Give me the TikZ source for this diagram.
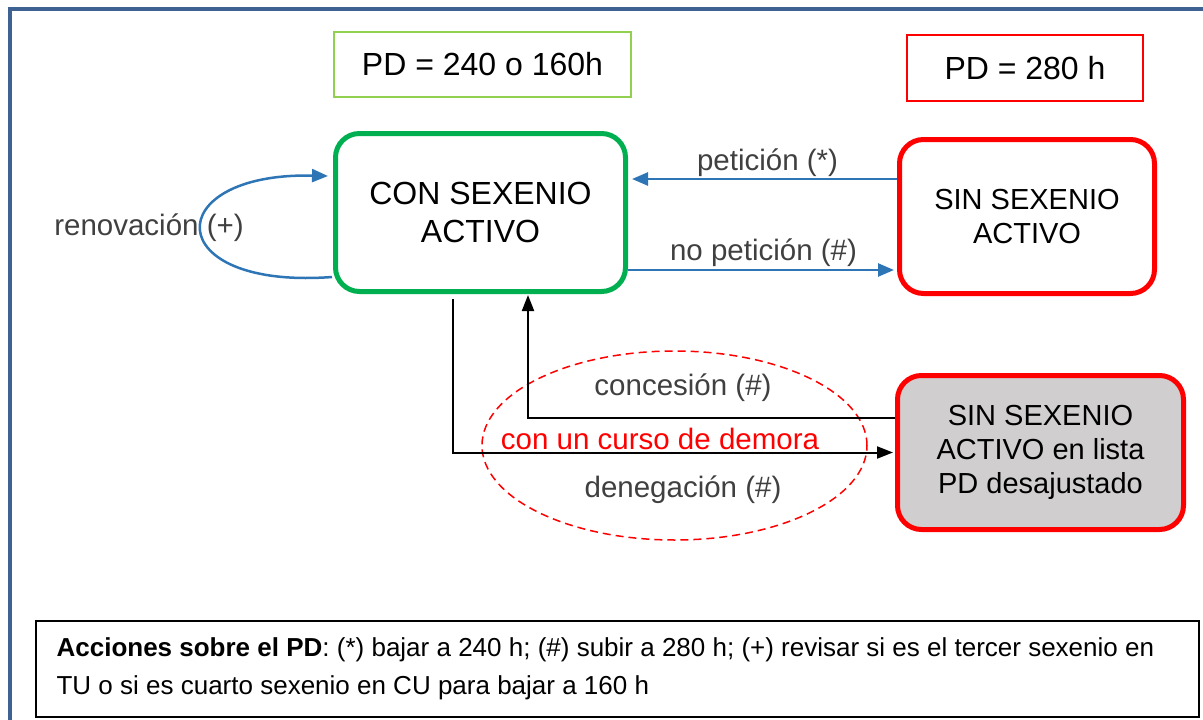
\documentclass[tikz,border=0pt]{standalone}
\usepackage{fontspec}
\setmainfont{Liberation Sans}
\usetikzlibrary{arrows.meta,shapes.geometric}

\definecolor{frameblue}{RGB}{62,98,146}
\definecolor{arrowblue}{RGB}{46,117,182}
\definecolor{stategreen}{RGB}{0,176,80}
\definecolor{lightgreen}{RGB}{146,208,80}
\definecolor{labelgray}{RGB}{64,64,64}
\definecolor{boxgray}{RGB}{208,206,206}

\tikzset{
  state/.style={rectangle, rounded corners=24pt, line width=5pt, align=center, inner sep=0pt, font=\fontsize{32}{38}\selectfont},
  pdbox/.style={rectangle, line width=1.8pt, inner sep=0pt, font=\fontsize{32}{38}\selectfont},
  lbl/.style={text=labelgray, inner sep=0pt, font=\fontsize{29.5}{34}\selectfont},
  bluearrow/.style={draw=arrowblue, line width=2.5pt, -{Triangle[length=16pt,width=13pt]}},
  blackarrow/.style={draw=black, line width=2pt, -{Triangle[length=16pt,width=12pt]}},
}

\begin{document}
\begin{tikzpicture}[x=1pt,y=-1pt]
        \useasboundingbox (0,0) rectangle (1203,720);

        % Outer frame
        \draw[frameblue, line width=4pt] (10,740) -- (10,9) -- (1220,9);

        % PD boxes on top
        \node at (482.5, 64.5) (PDlow) [pdbox, draw=lightgreen, minimum width=297.5, minimum height=65.5] {PD = 240 o 160h};
        \node at (1025, 68) (PDhigh) [pdbox, draw=red, minimum width=236.5, minimum height=66.5] {PD = 280 h};

        % States
        \node at (480.5, 212.5) (CON) [state, draw=stategreen, minimum width=290, minimum height=158] {CON SEXENIO\\ACTIVO};
        \node at (1027, 216.5) (SIN) [state, draw=red, minimum width=255, minimum height=154, font=\fontsize{29}{34}\selectfont] {SIN SEXENIO\\ACTIVO};
        \node at (1040.5, 452.5) (LISTA) [state, draw=red, fill=boxgray, minimum width=286, minimum height=154, font=\fontsize{29}{34}\selectfont] {SIN SEXENIO\\ACTIVO en lista\\PD desajustado};

        % Delay ellipse
        \node at (674.5, 445.5) (DELAY) [ellipse, draw=red, line width=1.5pt, dash pattern=on 8pt off 5pt, minimum width=385, minimum height=189, inner sep=0pt] {};

        % Blue edges
        \draw[bluearrow] ([yshift=37.5pt]SIN.west) -- ([xshift=4pt,yshift=33.5pt]CON.east);
        \draw[bluearrow] ([yshift=-57.5pt]CON.east) -- ([xshift=-3pt,yshift=-53.5pt]SIN.west);
        \draw[bluearrow] ([xshift=-1pt,yshift=-64.5pt]CON.west) .. controls +(-173,13) and +(-169,-4) .. ([xshift=-5pt,yshift=36.5pt]CON.west);

        % Black edges
        \draw[blackarrow] ([xshift=-27.5pt,yshift=-5pt]CON.south) |- ([xshift=-2pt]LISTA.west);
        \draw[blackarrow] ([yshift=34.5pt]LISTA.west) -| ([xshift=47.5pt,yshift=-1pt]CON.south);

        % Edge labels
        \node at (149, 227.5) (renov) [lbl] {renovación (+)};
        \node at (767.5, 162.5) (pet) [lbl] {petición (*)};
        \node at (763.5, 252.5) (nopet) [lbl] {no petición (\#)};
        \node at (683, 388) (conc) [lbl] {concesión (\#)};
        \node at (660, 439) (demora) [lbl, text=red] {con un curso de demora};
        \node at (683, 489.5) (deneg) [lbl] {denegación (\#)};

        % Legend
        \node at (617.5, 669) (legend) [rectangle, draw=black, line width=1.2pt, minimum width=1163, minimum height=96, inner sep=0pt] {};
        \node at ([xshift=21pt]legend.west) (legendtext) [anchor=west, align=left, inner sep=0pt, font=\fontsize{26}{38}\selectfont]
          {\textbf{Acciones sobre el PD}: (*) bajar a 240 h; (\#) subir a 280 h; (+) revisar si es el tercer sexenio en\\TU o si es cuarto sexenio en CU para bajar a 160 h};
\end{tikzpicture}
\end{document}
